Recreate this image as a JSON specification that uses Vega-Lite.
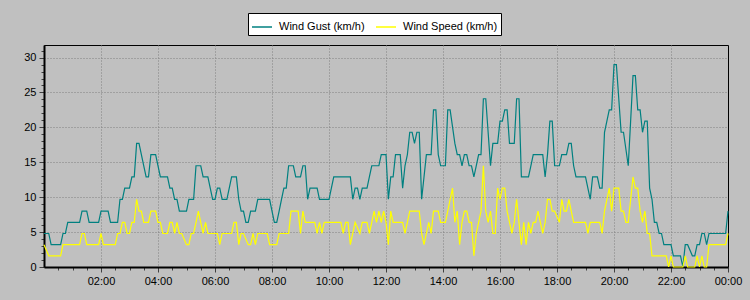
{
 "$schema": "https://vega.github.io/schema/vega-lite/v6.json",
 "width": 684,
 "height": 222,
 "autosize": "none",
 "padding": {"left": 44, "top": 45, "right": 22, "bottom": 33},
 "background": "#c0c0c0",
 "config": {"view": {"stroke": "black", "strokeWidth": 1, "fill": "#c0c0c0"}, "font": "Liberation Sans"},
 "datasets": {
  "gust": [
   {"m":0,"v":4.8},{"m":10,"v":4.8},{"m":15,"v":3.2},{"m":35,"v":3.2},{"m":40,"v":4.8},{"m":45,"v":4.8},{"m":50,"v":6.4},{"m":75,"v":6.4},{"m":80,"v":8.0},{"m":90,"v":8.0},{"m":95,"v":6.4},{"m":115,"v":6.4},{"m":120,"v":8.0},{"m":135,"v":8.0},{"m":140,"v":6.4},{"m":155,"v":6.4},{"m":160,"v":9.7},{"m":165,"v":9.7},{"m":170,"v":11.3},{"m":180,"v":11.3},{"m":185,"v":12.9},{"m":190,"v":12.9},{"m":195,"v":17.7},{"m":200,"v":17.7},{"m":205,"v":16.1},{"m":210,"v":14.5},{"m":215,"v":12.9},{"m":220,"v":12.9},{"m":225,"v":16.1},{"m":235,"v":16.1},{"m":240,"v":14.5},{"m":245,"v":12.9},{"m":260,"v":12.9},{"m":265,"v":11.3},{"m":270,"v":11.3},{"m":275,"v":9.7},{"m":280,"v":9.7},{"m":285,"v":8.0},{"m":300,"v":8.0},{"m":305,"v":9.7},{"m":315,"v":9.7},{"m":320,"v":14.5},{"m":330,"v":14.5},{"m":335,"v":12.9},{"m":345,"v":12.9},{"m":350,"v":11.3},{"m":355,"v":9.7},{"m":360,"v":9.7},{"m":365,"v":11.3},{"m":370,"v":11.3},{"m":375,"v":9.7},{"m":385,"v":9.7},{"m":395,"v":12.9},{"m":405,"v":12.9},{"m":410,"v":9.7},{"m":415,"v":8.0},{"m":420,"v":8.0},{"m":425,"v":6.4},{"m":430,"v":6.4},{"m":435,"v":8.0},{"m":445,"v":8.0},{"m":450,"v":9.7},{"m":475,"v":9.7},{"m":480,"v":8.0},{"m":485,"v":6.4},{"m":490,"v":6.4},{"m":495,"v":8.0},{"m":500,"v":9.7},{"m":505,"v":11.3},{"m":510,"v":11.3},{"m":515,"v":14.5},{"m":525,"v":14.5},{"m":530,"v":12.9},{"m":540,"v":12.9},{"m":545,"v":14.5},{"m":550,"v":14.5},{"m":555,"v":9.7},{"m":560,"v":11.3},{"m":575,"v":11.3},{"m":580,"v":9.7},{"m":600,"v":9.7},{"m":605,"v":11.3},{"m":610,"v":12.9},{"m":645,"v":12.9},{"m":650,"v":9.7},{"m":655,"v":11.3},{"m":660,"v":11.3},{"m":665,"v":9.7},{"m":670,"v":11.3},{"m":680,"v":11.3},{"m":685,"v":12.9},{"m":690,"v":14.5},{"m":705,"v":14.5},{"m":710,"v":16.1},{"m":720,"v":16.1},{"m":725,"v":9.7},{"m":730,"v":12.9},{"m":735,"v":12.9},{"m":740,"v":16.1},{"m":750,"v":16.1},{"m":755,"v":11.3},{"m":760,"v":14.5},{"m":765,"v":16.1},{"m":770,"v":19.3},{"m":775,"v":19.3},{"m":780,"v":17.7},{"m":785,"v":19.3},{"m":790,"v":19.3},{"m":795,"v":9.7},{"m":800,"v":12.9},{"m":805,"v":16.1},{"m":815,"v":16.1},{"m":820,"v":22.5},{"m":825,"v":22.5},{"m":830,"v":16.1},{"m":835,"v":14.5},{"m":845,"v":14.5},{"m":850,"v":22.5},{"m":855,"v":22.5},{"m":865,"v":17.7},{"m":870,"v":16.1},{"m":875,"v":16.1},{"m":880,"v":14.5},{"m":885,"v":16.1},{"m":890,"v":16.1},{"m":895,"v":14.5},{"m":900,"v":14.5},{"m":905,"v":12.9},{"m":910,"v":14.5},{"m":915,"v":16.1},{"m":920,"v":16.1},{"m":925,"v":24.1},{"m":930,"v":24.1},{"m":935,"v":19.3},{"m":940,"v":14.5},{"m":945,"v":17.7},{"m":955,"v":17.7},{"m":960,"v":20.9},{"m":965,"v":20.9},{"m":970,"v":22.5},{"m":975,"v":22.5},{"m":980,"v":17.7},{"m":990,"v":17.7},{"m":995,"v":24.1},{"m":1000,"v":24.1},{"m":1005,"v":12.9},{"m":1020,"v":12.9},{"m":1025,"v":14.5},{"m":1030,"v":16.1},{"m":1050,"v":16.1},{"m":1055,"v":12.9},{"m":1060,"v":16.1},{"m":1065,"v":20.9},{"m":1070,"v":20.9},{"m":1075,"v":14.5},{"m":1085,"v":14.5},{"m":1090,"v":16.1},{"m":1100,"v":16.1},{"m":1105,"v":17.7},{"m":1110,"v":17.7},{"m":1115,"v":14.5},{"m":1120,"v":12.9},{"m":1140,"v":12.9},{"m":1145,"v":11.3},{"m":1150,"v":9.7},{"m":1155,"v":12.9},{"m":1165,"v":12.9},{"m":1170,"v":11.3},{"m":1175,"v":11.3},{"m":1180,"v":19.3},{"m":1185,"v":20.9},{"m":1190,"v":22.5},{"m":1195,"v":22.5},{"m":1200,"v":29.0},{"m":1205,"v":29.0},{"m":1215,"v":19.3},{"m":1220,"v":19.3},{"m":1230,"v":14.5},{"m":1235,"v":20.9},{"m":1240,"v":27.4},{"m":1245,"v":27.4},{"m":1250,"v":22.5},{"m":1255,"v":22.5},{"m":1260,"v":19.3},{"m":1265,"v":20.9},{"m":1270,"v":20.9},{"m":1275,"v":11.3},{"m":1280,"v":9.7},{"m":1285,"v":6.4},{"m":1290,"v":6.4},{"m":1295,"v":4.8},{"m":1300,"v":4.8},{"m":1305,"v":3.2},{"m":1320,"v":3.2},{"m":1325,"v":1.6},{"m":1340,"v":1.6},{"m":1345,"v":0},{"m":1350,"v":3.2},{"m":1355,"v":3.2},{"m":1365,"v":1.6},{"m":1370,"v":1.6},{"m":1375,"v":3.2},{"m":1380,"v":3.2},{"m":1385,"v":4.8},{"m":1390,"v":4.8},{"m":1395,"v":3.2},{"m":1400,"v":4.8},{"m":1435,"v":4.8},{"m":1440,"v":8.0}
  ],
  "speed": [
   {"m":0,"v":3.2},{"m":10,"v":1.6},{"m":35,"v":1.6},{"m":40,"v":3.2},{"m":75,"v":3.2},{"m":80,"v":4.8},{"m":85,"v":4.8},{"m":90,"v":3.2},{"m":115,"v":3.2},{"m":120,"v":4.8},{"m":125,"v":3.2},{"m":150,"v":3.2},{"m":155,"v":4.8},{"m":160,"v":4.8},{"m":165,"v":6.4},{"m":170,"v":6.4},{"m":175,"v":4.8},{"m":180,"v":4.8},{"m":185,"v":6.4},{"m":190,"v":6.4},{"m":195,"v":9.7},{"m":200,"v":8.0},{"m":205,"v":8.0},{"m":210,"v":6.4},{"m":220,"v":6.4},{"m":225,"v":8.0},{"m":235,"v":8.0},{"m":240,"v":6.4},{"m":245,"v":6.4},{"m":250,"v":4.8},{"m":260,"v":4.8},{"m":265,"v":6.4},{"m":270,"v":6.4},{"m":275,"v":4.8},{"m":280,"v":6.4},{"m":285,"v":4.8},{"m":290,"v":4.8},{"m":300,"v":3.2},{"m":305,"v":3.2},{"m":310,"v":4.8},{"m":315,"v":4.8},{"m":320,"v":6.4},{"m":325,"v":8.0},{"m":330,"v":6.4},{"m":335,"v":4.8},{"m":340,"v":6.4},{"m":345,"v":4.8},{"m":365,"v":4.8},{"m":370,"v":3.2},{"m":375,"v":4.8},{"m":395,"v":4.8},{"m":400,"v":6.4},{"m":405,"v":6.4},{"m":410,"v":3.2},{"m":415,"v":4.8},{"m":420,"v":4.8},{"m":430,"v":3.2},{"m":435,"v":3.2},{"m":440,"v":4.8},{"m":445,"v":3.2},{"m":450,"v":4.8},{"m":470,"v":4.8},{"m":475,"v":3.2},{"m":490,"v":3.2},{"m":495,"v":4.8},{"m":515,"v":4.8},{"m":520,"v":8.0},{"m":535,"v":8.0},{"m":540,"v":4.8},{"m":545,"v":8.0},{"m":550,"v":6.4},{"m":570,"v":6.4},{"m":575,"v":4.8},{"m":580,"v":6.4},{"m":585,"v":4.8},{"m":590,"v":6.4},{"m":625,"v":6.4},{"m":630,"v":4.8},{"m":635,"v":6.4},{"m":640,"v":6.4},{"m":645,"v":3.2},{"m":650,"v":4.8},{"m":655,"v":6.4},{"m":665,"v":4.8},{"m":670,"v":6.4},{"m":680,"v":6.4},{"m":685,"v":4.8},{"m":690,"v":6.4},{"m":695,"v":8.0},{"m":700,"v":6.4},{"m":705,"v":8.0},{"m":710,"v":6.4},{"m":715,"v":8.0},{"m":720,"v":6.4},{"m":725,"v":3.2},{"m":730,"v":8.0},{"m":735,"v":6.4},{"m":755,"v":6.4},{"m":760,"v":4.8},{"m":765,"v":6.4},{"m":770,"v":8.0},{"m":790,"v":8.0},{"m":795,"v":4.8},{"m":800,"v":3.2},{"m":805,"v":4.8},{"m":810,"v":6.4},{"m":815,"v":4.8},{"m":820,"v":8.0},{"m":830,"v":8.0},{"m":835,"v":6.4},{"m":845,"v":6.4},{"m":850,"v":8.0},{"m":855,"v":9.7},{"m":860,"v":11.3},{"m":865,"v":6.4},{"m":870,"v":8.0},{"m":875,"v":3.2},{"m":880,"v":6.4},{"m":885,"v":8.0},{"m":890,"v":8.0},{"m":895,"v":6.4},{"m":900,"v":6.4},{"m":905,"v":1.6},{"m":910,"v":4.8},{"m":915,"v":6.4},{"m":920,"v":8.0},{"m":925,"v":14.5},{"m":930,"v":8.0},{"m":935,"v":6.4},{"m":940,"v":8.0},{"m":945,"v":4.8},{"m":950,"v":4.8},{"m":955,"v":11.3},{"m":960,"v":9.7},{"m":965,"v":11.3},{"m":970,"v":11.3},{"m":975,"v":8.0},{"m":980,"v":6.4},{"m":985,"v":4.8},{"m":990,"v":6.4},{"m":995,"v":9.7},{"m":1000,"v":6.4},{"m":1005,"v":3.2},{"m":1010,"v":6.4},{"m":1015,"v":3.2},{"m":1020,"v":6.4},{"m":1025,"v":4.8},{"m":1030,"v":6.4},{"m":1035,"v":6.4},{"m":1040,"v":8.0},{"m":1045,"v":6.4},{"m":1050,"v":4.8},{"m":1055,"v":6.4},{"m":1060,"v":9.7},{"m":1065,"v":9.7},{"m":1070,"v":8.0},{"m":1075,"v":8.0},{"m":1085,"v":6.4},{"m":1090,"v":9.7},{"m":1095,"v":8.0},{"m":1100,"v":8.0},{"m":1105,"v":9.7},{"m":1110,"v":8.0},{"m":1115,"v":6.4},{"m":1140,"v":6.4},{"m":1145,"v":4.8},{"m":1150,"v":6.4},{"m":1170,"v":6.4},{"m":1175,"v":4.8},{"m":1180,"v":8.0},{"m":1190,"v":11.3},{"m":1195,"v":8.0},{"m":1200,"v":11.3},{"m":1210,"v":11.3},{"m":1215,"v":8.0},{"m":1220,"v":8.0},{"m":1225,"v":6.4},{"m":1230,"v":6.4},{"m":1240,"v":12.9},{"m":1245,"v":11.3},{"m":1250,"v":11.3},{"m":1255,"v":8.0},{"m":1260,"v":6.4},{"m":1265,"v":8.0},{"m":1270,"v":4.8},{"m":1275,"v":4.8},{"m":1280,"v":1.6},{"m":1310,"v":1.6},{"m":1315,"v":0},{"m":1320,"v":1.6},{"m":1325,"v":0},{"m":1345,"v":0},{"m":1350,"v":1.6},{"m":1355,"v":0},{"m":1370,"v":0},{"m":1375,"v":1.6},{"m":1380,"v":0},{"m":1385,"v":1.6},{"m":1390,"v":0},{"m":1395,"v":0},{"m":1400,"v":3.2},{"m":1435,"v":3.2},{"m":1440,"v":4.8}
  ]
 },
 "encoding": {
  "x": {
   "field": "m", "type": "quantitative",
   "scale": {"domain": [0, 1440], "nice": false, "zero": false},
   "axis": {
    "title": null,
    "values": [30,60,90,120,150,180,210,240,270,300,330,360,390,420,450,480,510,540,570,600,630,660,690,720,750,780,810,840,870,900,930,960,990,1020,1050,1080,1110,1140,1170,1200,1230,1260,1290,1320,1350,1380,1410,1440],
    "labelExpr": "datum.value % 120 == 0 ? (((datum.value/60)%24) < 10 ? '0' : '') + ((datum.value/60)%24) + ':00' : ''",
    "grid": true,
    "gridColor": "#808080",
    "gridDash": [1, 2],
    "gridOpacity": {"condition": {"test": "datum.value % 120 == 0 && datum.value < 1440", "value": 1}, "value": 0},
    "tickSize": {"condition": {"test": "datum.value % 120 == 0", "value": 5}, "value": 3},
    "tickColor": "#404040",
    "domainColor": "black",
    "domainWidth": 2,
    "labelFontSize": 11,
    "labelColor": "black",
    "labelPadding": 3,
    "labelFlush": false,
    "labelOverlap": false
   }
  },
  "y": {
   "field": "v", "type": "quantitative",
   "scale": {"domain": [0, 31.8], "nice": false},
   "axis": {
    "title": null,
    "values": [0,1,2,3,4,5,6,7,8,9,10,11,12,13,14,15,16,17,18,19,20,21,22,23,24,25,26,27,28,29,30,31],
    "labelExpr": "datum.value % 5 == 0 ? datum.value : ''",
    "grid": true,
    "gridColor": "#808080",
    "gridDash": [1, 2],
    "gridOpacity": {"condition": {"test": "datum.value % 5 == 0 && datum.value > 0", "value": 1}, "value": 0},
    "tickSize": {"condition": {"test": "datum.value % 5 == 0", "value": 5}, "value": 3},
    "tickColor": "#404040",
    "domainColor": "black",
    "domainWidth": 2,
    "labelFontSize": 11,
    "labelColor": "black",
    "labelPadding": 3,
    "labelFlush": false,
    "labelOverlap": false
   }
  }
 },
 "layer": [
  {
   "data": {"name": "gust"},
   "mark": {"type": "line", "strokeWidth": 1.2},
   "encoding": {
    "color": {
     "datum": "Wind Gust (km/h)", "type": "nominal",
     "scale": {"domain": ["Wind Gust (km/h)", "Wind Speed (km/h)"], "range": ["#008080", "#ffff00"]},
     "legend": {
      "orient": "none", "legendX": 204, "legendY": -32, "direction": "horizontal",
      "title": null, "fillColor": "white", "strokeColor": "black", "padding": 3,
      "symbolType": "stroke", "symbolSize": 400, "symbolStrokeWidth": 1.5,
      "labelFontSize": 11, "labelColor": "black", "labelOffset": 6, "columnPadding": 8, "labelLimit": 200
     }
    }
   }
  },
  {
   "data": {"name": "speed"},
   "mark": {"type": "line", "strokeWidth": 1.2},
   "encoding": {"color": {"datum": "Wind Speed (km/h)", "type": "nominal"}}
  }
 ]
}
